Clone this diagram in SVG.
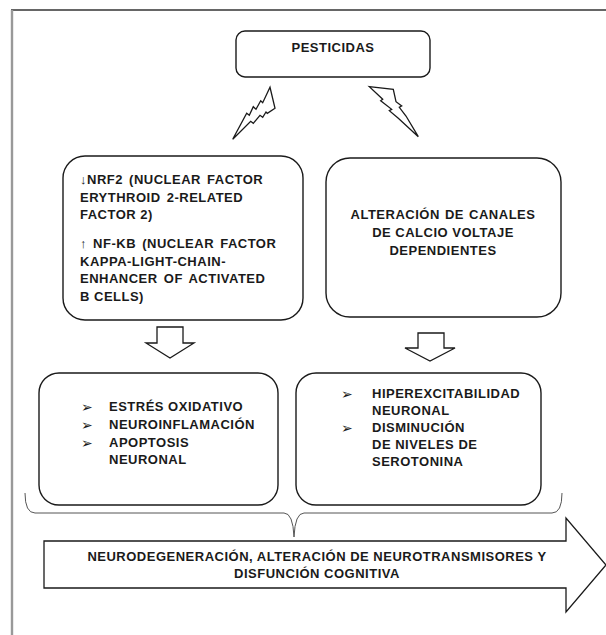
<svg xmlns="http://www.w3.org/2000/svg" width="606" height="635" viewBox="0 0 606 635">
<style>
.box{fill:#fff;stroke:#1a1a1a;stroke-width:1.4}
.t{font-family:"Liberation Sans",Arial,sans-serif;font-weight:bold;font-size:13px;fill:#1a1a1a;letter-spacing:0.5px}
.c{text-anchor:middle}
.b{font-family:"DejaVu Sans",sans-serif;font-size:14px;fill:#1a1a1a}
.con{fill:#fff;stroke:#1a1a1a;stroke-width:1.3;stroke-linejoin:miter}
.brace{fill:none;stroke:#555;stroke-width:1}
</style>
<rect width="606" height="635" fill="#fff"/>
<g id="frame">
<line x1="11" y1="10" x2="606" y2="10" stroke="#333" stroke-width="1.4"/>
<line x1="12" y1="10" x2="12" y2="635" stroke="#999" stroke-width="2.4"/>
</g>
<g id="pesticidas">
<rect class="box" x="236" y="31" width="194" height="46" rx="9"/>
<text class="t c" x="333" y="52">PESTICIDAS</text>
</g>
<g id="nrf2">
<rect class="box" x="63" y="156" width="240" height="164" rx="22"/>
<text class="t" x="80" y="184" word-spacing="2">↓NRF2 (NUCLEAR FACTOR</text>
<text class="t" x="80" y="201.7" word-spacing="2">ERYTHROID 2-RELATED</text>
<text class="t" x="80" y="219">FACTOR 2)</text>
<text class="t" x="80" y="247.7" word-spacing="2">↑ NF-KB (NUCLEAR FACTOR</text>
<text class="t" x="80" y="265.7">KAPPA-LIGHT-CHAIN-</text>
<text class="t" x="80" y="283.3" word-spacing="2">ENHANCER OF ACTIVATED</text>
<text class="t" x="80" y="301">B CELLS)</text>
</g>
<g id="calcio">
<rect class="box" x="326" y="158" width="235" height="159" rx="24"/>
<text class="t c" x="443" y="219" word-spacing="1">ALTERACIÓN DE CANALES</text>
<text class="t c" x="443" y="237">DE CALCIO VOLTAJE</text>
<text class="t c" x="443" y="255">DEPENDIENTES</text>
</g>
<g id="efectos1">
<rect class="box" x="39" y="373" width="239" height="132" rx="20"/>
<text class="b" x="81" y="411.5">➢</text>
<text class="b" x="81" y="429.5">➢</text>
<text class="b" x="81" y="447.5">➢</text>
<text class="t" x="109" y="411">ESTRÉS OXIDATIVO</text>
<text class="t" x="109" y="429">NEUROINFLAMACIÓN</text>
<text class="t" x="109" y="447">APOPTOSIS</text>
<text class="t" x="109" y="464">NEURONAL</text>
</g>
<g id="efectos2">
<rect class="box" x="296" y="373" width="245" height="132" rx="20"/>
<text class="b" x="341" y="398.5">➢</text>
<text class="b" x="341" y="432.5">➢</text>
<text class="t" x="372" y="398">HIPEREXCITABILIDAD</text>
<text class="t" x="372" y="415">NEURONAL</text>
<text class="t" x="372" y="432">DISMINUCIÓN</text>
<text class="t" x="372" y="449">DE NIVELES DE</text>
<text class="t" x="372" y="466">SEROTONINA</text>
</g>
<g id="resultado">
<path class="con" d="M44,541 L566,541 L566,518 L606,565 L566,612 L566,588 L44,588 Z"/>
<text class="t c" x="317" y="560.5">NEURODEGENERACIÓN, ALTERACIÓN DE NEUROTRANSMISORES Y</text>
<text class="t c" x="317" y="577.5">DISFUNCIÓN COGNITIVA</text>
</g>
<g id="connectors">
<path class="con" d="M232.7,139.3 L246.7,113.3 L249.3,115.3 L253.3,106.7 L256,109.3 L260.7,100.7 L262.7,102.7 L270,87.3 L275,108.3 L267.3,113.3 L266,112 L262.7,117.3 L260,115.3 L253.3,123.3 L250.7,121.3 Z"/>
<path class="con" d="M369.3,86.7 L393.3,89.3 L396,101.7 L401.7,106 L399.3,107.3 L406,116 L418.3,136.7 L398.3,118.3 L389.3,110.7 L391.7,109.3 L380.7,100.7 L382.7,99.3 Z"/>
<path class="con" d="M157,327 L183,327 L183,343 L194,343 L170,358 L146,343 L157,343 Z"/>
<path class="con" d="M418,333 L444,333 L444,348 L455,348 L430,361 L405,348 L418,348 Z"/>
<path class="brace" d="M25,493 Q25,513 35,513 L284,513 Q293,513 294,537 Q295,513 304,513 L552,513 Q562,513 562,493"/>
</g>
</svg>
